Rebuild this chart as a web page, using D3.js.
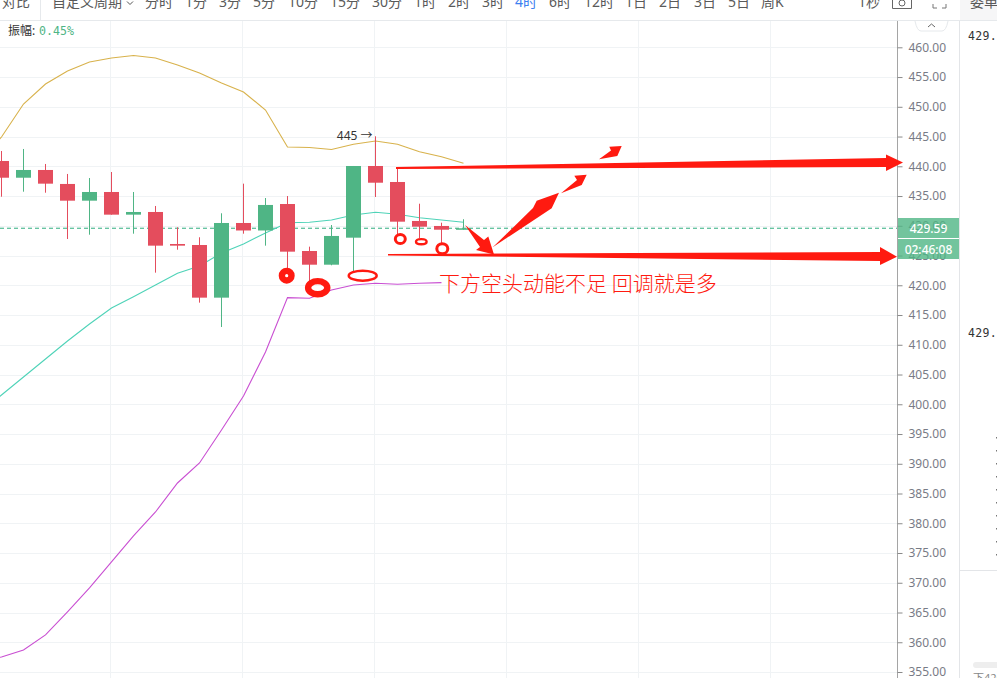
<!DOCTYPE html>
<html><head><meta charset="utf-8">
<style>html,body{margin:0;padding:0;background:#fff;overflow:hidden}svg{display:block}</style>
<script src="https://cdn.jsdelivr.net/npm/d3@7"></script></head><body>
<svg id="c" width="997" height="678"></svg>
<script>
// candle data
const candleOpen=[440.89,438.08,439.38,437.03,434.22,435.68,431.87,432.32,426.94,426.77,417.92,430.47,429.21,433.66,425.76,423.46,428.0,440.05,437.36,430.81,429.97,429.34];
const candleClose=[438.08,439.38,437.08,434.22,435.68,431.87,432.32,426.66,426.66,417.92,430.47,429.21,433.5,425.65,423.46,428.29,440.05,437.24,430.69,429.85,429.34,429.58];
const candleHigh=[442.57,442.91,440.39,438.71,438.03,439.04,435.68,433.33,429.75,428.07,432.1,437.08,434.67,435.0,426.49,430.13,440.05,445.04,439.71,433.71,430.52,431.1];
const candleLow=[434.89,435.73,435.56,427.78,428.5,431.87,428.67,422.12,425.98,417.08,412.99,428.67,426.66,422.57,420.55,423.36,422.24,434.84,428.45,427.9,427.11,429.34];
// bands start one bar before the first candle shown
const upperBand=[441.0,444.92,450.47,453.83,456.02,457.53,458.2,458.62,458.2,457.03,455.68,454,452.49,449.46,443.24,443.16,442.82,443.7,444.25,443.7,442.45,441.61,440.5];
const midBand=[398.6,401.56,404.59,407.61,410.64,413.5,416.18,418.08,420.05,422.02,423.24,425.43,426.94,428.79,430.52,430.59,430.97,431.82,432.27,431.93,431.36,430.97,430.59];
const lowerBand=[356.7,357.53,358.71,361.23,365.1,369.13,373.5,377.87,381.9,386.77,390.13,395.68,401.4,408.79,417.92,417.82,419.21,420.05,420.34,420.17,420.34,420.44];
const priceTicks=[460,455,450,445,440,435,430,425,420,415,410,405,400,395,390,385,380,375,370,365,360,355];
const timeGrid=[5,11,17,23,29,35];
const lastPrice=429.59, highMark=445;
const countdown="02:46:08", amplitude="0.45%";
const periods=["分时","1分","3分","5分","10分","15分","30分","1时","2时","3时","4时","6时","12时","1日","2日","3日","5日","周K"];
const periodX=[145,185,219,253,288,330,372,414,448,482,515,549,584,625,659,694,728,761];
const note="下方空头动能不足 回调就是多";
const orderPrices=["429.1","429.1"];

const UP="#4fb585",DOWN="#e44d5d",RED="#ff1a10";
const FONT="'Noto Sans','Noto Sans CJK SC',sans-serif";
const MONO="'DejaVu Sans Mono',monospace";
const svg=d3.select("#c");
const x=d3.scaleLinear().domain([0,1]).range([1.5,23.5]);
const y=d3.scaleLinear().domain([460,355]).range([47.3,672]);
svg.append("defs").append("clipPath").attr("id","plot").append("rect").attr("x",0).attr("y",21).attr("width",897).attr("height",657);
const plot=svg.append("g").attr("clip-path","url(#plot)");

// grid
plot.selectAll(".h").data(priceTicks).join("line").attr("x1",0).attr("x2",897)
 .attr("y1",d=>Math.round(y(d))+.5).attr("y2",d=>Math.round(y(d))+.5).attr("stroke","#f0f3f5");
plot.selectAll(".v").data(timeGrid).join("line").attr("y1",21).attr("y2",678)
 .attr("x1",d=>Math.floor(x(d))-.5).attr("x2",d=>Math.floor(x(d))-.5).attr("stroke","#f0f3f5");

// last price line
plot.append("line").attr("x1",0).attr("x2",897).attr("y1",y(lastPrice)).attr("y2",y(lastPrice))
 .attr("stroke","#2fae7f").attr("stroke-dasharray","4 3");

// bands
const line=d3.line().x((d,i)=>x(i-1)).y(d=>y(d));
[[upperBand,"#d8b24c"],[midBand,"#4fd3b8"],[lowerBand,"#c94fd2"]].forEach(([s,c])=>{
 plot.append("path").attr("d",line(s)).attr("fill","none").attr("stroke",c).attr("stroke-width",1.1);
});

// candles
const idx=d3.range(candleOpen.length);
const col=i=>candleClose[i]>=candleOpen[i]?UP:DOWN;
plot.selectAll(".w").data(idx).join("line").attr("x1",i=>x(i)).attr("x2",i=>x(i))
 .attr("y1",i=>y(candleHigh[i])).attr("y2",i=>y(candleLow[i])).attr("stroke",col).attr("stroke-width",1);
plot.selectAll(".b").data(idx).join("rect").attr("x",i=>x(i)-7.5).attr("width",15)
 .attr("y",i=>y(Math.max(candleOpen[i],candleClose[i])))
 .attr("height",i=>Math.max(1.5,Math.abs(y(candleOpen[i])-y(candleClose[i])))).attr("fill",col);

// high marker
plot.append("text").attr("x",x(17)-3).attr("y",y(highMark)+3.5).attr("text-anchor","end")
 .attr("font-family",FONT).attr("font-size",12).attr("fill","#333").text(highMark+" →");

// amplitude legend
svg.append("text").attr("x",8).attr("y",35).attr("font-family",FONT).attr("font-size",12).attr("fill","#333").text("振幅:");
svg.append("text").attr("x",39).attr("y",35).attr("font-family",MONO).attr("font-size",11.6).attr("fill",UP).text(amplitude);

// axis
const axisG=svg.append("g").attr("transform","translate(897.5,0)");
const axis=d3.axisRight(y).tickValues(priceTicks).tickSize(5).tickPadding(6).tickFormat(d3.format(".2f"));
axisG.call(axis);
axisG.select(".domain").attr("d","M0,21V678").attr("stroke","#a5a5a5");
axisG.selectAll(".tick line").attr("stroke","#8a8a8a");
axisG.selectAll(".tick text").attr("font-family",FONT).attr("font-size",12).attr("fill","#787b86");
// panel borders
svg.append("line").attr("x1",959.5).attr("x2",959.5).attr("y1",0).attr("y2",678).attr("stroke","#e3e5e8");
svg.append("line").attr("x1",960).attr("x2",997).attr("y1",570.5).attr("y2",570.5).attr("stroke","#e3e5e8");

// price labels (slightly translucent: the axis label shows through)
[[218,lastPrice.toFixed(2)],[239,countdown]].forEach(([t,s])=>{
 svg.append("rect").attr("x",898).attr("y",t).attr("width",61).attr("height",20).attr("fill","#4fb585").attr("fill-opacity",.8);
 svg.append("text").attr("x",928.5).attr("y",t+14.5).attr("text-anchor","middle").attr("font-family",FONT)
  .attr("font-size",12).attr("fill","#fff").attr("font-weight",500).text(s);
});

// toolbar
svg.append("rect").attr("width",997).attr("height",20).attr("fill","#fff");
svg.append("rect").attr("x",960).attr("width",37).attr("height",20).attr("fill","#f6f6f7");
svg.append("line").attr("x1",0).attr("x2",997).attr("y1",20.5).attr("y2",20.5).attr("stroke","#e6e9ec");
svg.append("line").attr("x1",40.5).attr("x2",40.5).attr("y1",0).attr("y2",20).attr("stroke","#e6e9ec");
const tb=(tx,s,c)=>svg.append("text").attr("x",tx).attr("y",7).attr("font-family",FONT).attr("font-size",14).attr("fill",c||"#5a5a5a").text(s);
tb(2,"对比");tb(52,"自定义周期");
periods.forEach((p,i)=>tb(periodX[i],p,p==="4时"?"#3d80f0":"#5a5a5a"));
tb(858,"1秒");tb(970,"委单");
svg.append("path").attr("d","M127,1.5l3,3l3,-3").attr("fill","none").attr("stroke","#555");
svg.append("path").attr("d","M892.5,0V8.5H911.5V0").attr("fill","none").attr("stroke","#666");
svg.append("circle").attr("cx",902).attr("cy",3).attr("r",3).attr("fill","none").attr("stroke","#666");
svg.append("path").attr("d","M933,4V8H937M946,4V8H942").attr("fill","none").attr("stroke","#777");
// axis collapse tab
svg.append("path").attr("d","M915,21q2,10 6,10H942q4,0 6,-10").attr("fill","#fff").attr("stroke","#e6e9ec");
svg.append("path").attr("d","M928,27l3.5,-3l3.5,3").attr("fill","none").attr("stroke","#666");

// order panel
[40,337].forEach((t,i)=>svg.append("text").attr("x",968).attr("y",t).attr("font-family",MONO)
 .attr("font-size",11.5).attr("letter-spacing",.3).attr("fill","#333").text(orderPrices[i]));
d3.range(10).forEach(i=>svg.append("rect").attr("x",996).attr("y",437+13*i).attr("width",1).attr("height",1.5).attr("fill","#777"));
svg.append("rect").attr("x",973).attr("y",662).attr("width",30).attr("height",6).attr("rx",3).attr("fill","#eeeeee");
svg.append("text").attr("x",973).attr("y",682).attr("font-family",FONT).attr("font-size",11).attr("fill","#888").text("下426");

// hand-drawn annotations
const ann=svg.append("g").attr("fill",RED);
const polys=[
 "396,167 886,158 886,154.5 903,162.5 886,171 886,167 396,169",
 "388,254 880,252 880,247 897,256.7 880,265 880,261 388,255.5",
 "465,225 484,240 488.3,236.5 494,254.5 476,250 480,247",
 "492.7,247.3 533,208 536.7,200.7 559,192.7 551.7,208.3",
 "561,193.3 577,180 574.3,175.7 586.7,174.7 581.7,185",
 "599,159.3 611,150.5 609.3,146.7 621.7,146 617.3,156"
];
polys.forEach(p=>ann.append("polygon").attr("points",p));
[[286.7,275.7,4.8,4.8,6.4],[317.7,287.7,9.6,6.6,6.4],[362.7,275.7,14,5,2.4],[400.3,239,5,4.6,3],[421.3,241.7,5.3,2.6,2.4],[442.3,248.7,5.5,5,3]]
 .forEach(([cx,cy,rx,ry,sw])=>svg.append("ellipse").attr("cx",cx).attr("cy",cy).attr("rx",rx).attr("ry",ry)
  .attr("fill","none").attr("stroke",RED).attr("stroke-width",sw));
svg.append("text").attr("x",439).attr("y",290.5).attr("font-family","'Noto Sans CJK SC',sans-serif").attr("font-weight",300)
 .attr("font-size",21).attr("fill",RED).text(note);
</script></body></html>
